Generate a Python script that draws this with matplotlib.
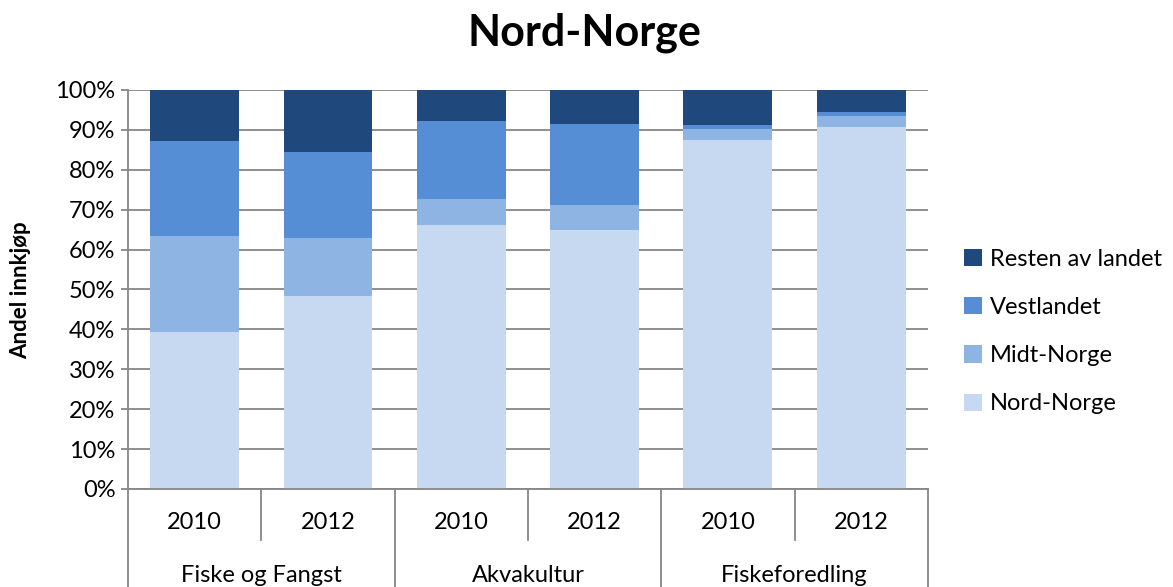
import matplotlib.pyplot as plt
import matplotlib.transforms as mtransforms

years = ["2010", "2012", "2010", "2012", "2010", "2012"]
groups = ["Fiske og Fangst", "Akvakultur", "Fiskeforedling"]

nord_norge = [39.3, 48.3, 66.2, 64.9, 87.5, 90.6]
midt_norge = [24.1, 14.6, 6.5, 6.3, 2.7, 3.0]
vestlandet = [23.7, 21.6, 19.5, 20.4, 1.0, 0.8]
resten = [12.9, 15.5, 7.8, 8.4, 8.8, 5.6]

series = [
    ("Nord-Norge", nord_norge, "#c6d9f1"),
    ("Midt-Norge", midt_norge, "#8eb4e3"),
    ("Vestlandet", vestlandet, "#558ed5"),
    ("Resten av landet", resten, "#1f497d"),
]

plt.rcParams['font.family'] = ['Lato', 'DejaVu Sans']
grey = "#868686"
fs = 17

fig = plt.figure(figsize=(11.73, 5.87), dpi=100)
ax = fig.add_axes([0.1091, 0.1670, 0.682, 0.6797])

x = list(range(len(years)))
bottom = [0.0] * len(years)
handles = []
for name, vals, col in series:
    b = ax.bar(x, vals, width=0.667, bottom=bottom, color=col, label=name, zorder=3)
    handles.append(b)
    bottom = [bt + v for bt, v in zip(bottom, vals)]

ax.set_xlim(-0.5, len(years) - 0.5)
ax.set_ylim(0, 100)
ax.set_yticks(range(0, 101, 10))
ax.set_yticklabels([f"{v}%" for v in range(0, 101, 10)], fontsize=fs)
ax.yaxis.grid(True, color=grey, linewidth=1.3, zorder=0)
ax.set_axisbelow(True)
ax.tick_params(axis='y', length=5, width=1.3, color=grey, pad=4)
ax.set_xticks([])
for s in ["top", "right", "bottom"]:
    ax.spines[s].set_visible(False)
ax.spines["left"].set_color(grey)
ax.spines["left"].set_linewidth(1.3)

# multi-level category axis
tr = mtransforms.blended_transform_factory(ax.transData, ax.transAxes)
ax.plot([-0.5, 5.5], [0, 0], transform=tr, color=grey, lw=1.3, clip_on=False, zorder=4)
for i in range(len(years) + 1):
    xv = i - 0.5
    low = -0.246 if i % 2 == 0 else -0.128
    ax.plot([xv, xv], [0, low], transform=tr, color=grey, lw=1.3, clip_on=False)
for i, yr in enumerate(years):
    ax.text(i, -0.085, yr, transform=tr, ha="center", va="center", fontsize=fs)
for j, g in enumerate(groups):
    ax.text(2 * j + 0.5, -0.218, g, transform=tr, ha="center", va="center", fontsize=fs)

fig.text(0.018, 0.5 + 0.005, "Andel innkjøp", rotation=90, ha="center", va="center",
         fontsize=16, fontweight="bold")
fig.text(0.498, 0.945, "Nord-Norge", ha="center", va="center", fontsize=31, fontweight="bold")

leg = fig.legend(handles[::-1], [s[0] for s in series][::-1], loc="center left",
                 bbox_to_anchor=(0.822, 0.435), frameon=False, fontsize=fs,
                 handlelength=0.75, handleheight=0.75, handletextpad=0.35, labelspacing=1.15,
                 borderaxespad=0, borderpad=0)

fig.savefig("out.png", dpi=100)
